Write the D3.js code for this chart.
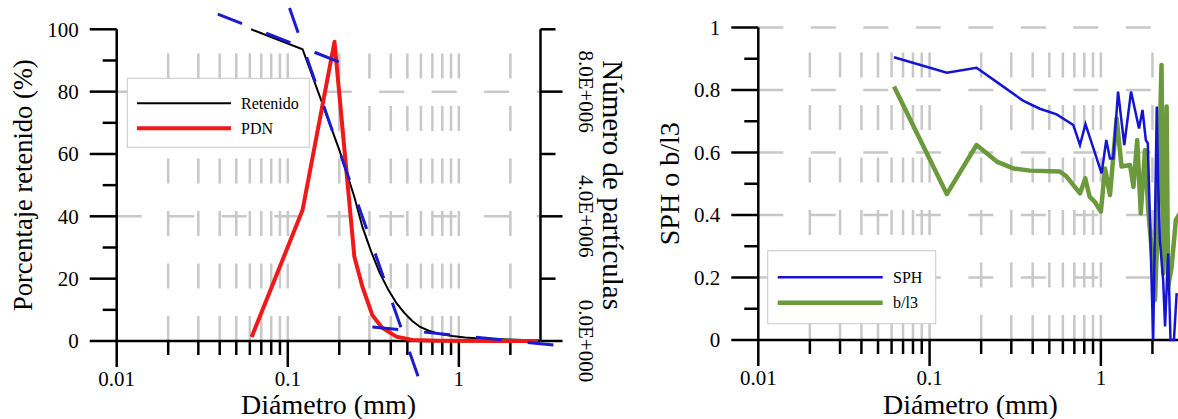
<!DOCTYPE html>
<html><head><meta charset="utf-8">
<script src="https://cdn.jsdelivr.net/npm/d3@7"></script>
<style>body{margin:0;background:#fff}svg{display:block}</style>
</head><body><svg id="c" width="1178" height="419" font-family="'Liberation Serif', 'Times New Roman', serif"></svg>
<script>
// ---------- data ----------
const xMajorTicks = [0.01, 0.1, 1];
const xMajorLabels = ["0.01", "0.1", "1"];
const xMinorTicks = [0.02,0.03,0.04,0.05,0.06,0.07,0.08,0.09,0.2,0.3,0.4,0.5,0.6,0.7,0.8,0.9,2];
const leftYTicks = [0,20,40,60,80,100];
const leftYMinor = [10,30,50,70,90];
const partTicks = [0,4e6,8e6];
const partLabels = ["0.0E+000","4.0E+006","8.0E+006"];
const partMinor = [2e6,6e6,1e7];
const rightYTicks = [0,0.2,0.4,0.6,0.8,1];
const rightYLabels = ["0","0.2","0.4","0.6","0.8","1"];
const rightYMinor = [0.1,0.3,0.5,0.7,0.9];

// Retenido (%)
const retD = [0.061,0.122,0.2,0.245,0.273,0.308,0.343,0.387,0.431,0.48,0.534,0.594,0.672,0.778,0.914,1.088,1.313,1.965,2.94];
const retV = [100,93.6,61.3,46.2,36.6,28.5,22.1,16.4,12.2,9.0,6.4,4.5,3.2,2.2,1.6,1.1,0.8,0.5,0.2];
// PDN (número de partículas)
const pdnD = [0.0615,0.122,0.1875,0.245,0.273,0.312,0.357,0.431,0.534,0.767,2.9];
const pdnV = [1.3e5,4.2e6,9.6e6,2.7e6,1.74e6,8.3e5,4.2e5,1.4e5,3e4,1e4,0];
// tangent (dashed) lines: [d0, v0, d1, v1] (%)
const tangA = [0.039,104.9,0.2,89.5];
const tangB = [0.1024,106.8,0.587,-12.5];
const tangC = [0.312,4.5,3.59,-1.3];

// SPH
const sphD = [0.062,0.126,0.188,0.258,0.351,0.44,0.552,0.69,0.755,0.813,1.01,1.075,1.13,1.18,1.26,1.37,1.5,1.67,1.75,1.83,1.88,2.02,2.12,2.16,2.21,2.31,2.37,2.47,2.55,2.67,2.77];
const sphV = [0.905,0.855,0.871,0.818,0.766,0.74,0.722,0.688,0.624,0.691,0.533,0.64,0.581,0.581,0.795,0.624,0.795,0.677,0.736,0.64,0.629,0.0,0.747,0.496,0.32,0.192,0.043,0.277,0.0,0.0,0.15];
// b/l3
const blD = [0.062,0.126,0.188,0.247,0.308,0.386,0.576,0.631,0.755,0.811,0.859,0.918,1.0,1.057,1.13,1.236,1.32,1.48,1.55,1.63,1.71,1.81,1.89,1.98,2.07,2.13,2.26,2.31,2.42,2.47,2.59,2.74,3.0];
const blV = [0.811,0.467,0.624,0.571,0.549,0.542,0.539,0.523,0.469,0.517,0.459,0.443,0.411,0.549,0.464,0.709,0.555,0.56,0.49,0.64,0.405,0.608,0.416,0.288,0.128,0.32,0.88,0.213,0.747,0.17,0.235,0.384,0.42];

// ---------- drawing ----------
const FONT = "'Liberation Serif', 'Times New Roman', serif";
const svg = d3.select("#c");
svg.append("rect").attr("width",1178).attr("height",419).attr("fill","#fff");
const GRID = "#c8c8c8";
const AX = 2.5;

function txt(g){ return g.append("text").attr("font-family",FONT).attr("fill","#000"); }

function panel(o){
  const g = svg.append("g");
  const x = d3.scaleLog().domain([0.01,3]).range([o.x0, o.x1]);
  const y = d3.scaleLinear().domain(o.yDomain).range([o.yb, o.yt]);
  const gx = xMinorTicks.concat([0.1,1]);
  g.selectAll(".vg").data(gx).join("line")
    .attr("x1",d=>x(d)).attr("x2",d=>x(d)).attr("y1",o.yb).attr("y2",o.yt)
    .attr("stroke",GRID).attr("stroke-width",2.5).attr("stroke-dasharray","25,27.5");
  g.selectAll(".hg").data(o.hGrid).join("line")
    .attr("x1",o.x0).attr("x2",o.x1).attr("y1",d=>o.hScale(d)).attr("y2",d=>o.hScale(d))
    .attr("stroke",GRID).attr("stroke-width",2.5).attr("stroke-dasharray","25,27.5");
  return {g,x,y};
}

function axes(p,o){
  const {g,x,y} = p;
  g.append("line").attr("x1",o.x0).attr("x2",o.x1).attr("y1",o.yb).attr("y2",o.yb).attr("stroke","#000").attr("stroke-width",AX);
  g.selectAll(".xM").data(xMajorTicks).join("line").attr("x1",d=>x(d)).attr("x2",d=>x(d)).attr("y1",o.yb).attr("y2",o.yb+26).attr("stroke","#000").attr("stroke-width",AX);
  g.selectAll(".xm").data(xMinorTicks).join("line").attr("x1",d=>x(d)).attr("x2",d=>x(d)).attr("y1",o.yb).attr("y2",o.yb+14).attr("stroke","#000").attr("stroke-width",AX);
  xMajorTicks.forEach((d,i)=>{
    txt(g).attr("x",x(d)).attr("y",o.yb+45).attr("text-anchor","middle").attr("font-size",21).text(xMajorLabels[i]);
  });
  g.append("line").attr("x1",o.x0).attr("x2",o.x0).attr("y1",o.yb).attr("y2",o.yt).attr("stroke","#000").attr("stroke-width",AX);
  g.selectAll(".yM").data(o.yTicks).join("line").attr("x1",o.x0-27).attr("x2",o.x0).attr("y1",d=>y(d)).attr("y2",d=>y(d)).attr("stroke","#000").attr("stroke-width",AX);
  g.selectAll(".ym").data(o.yMinor).join("line").attr("x1",o.x0-14).attr("x2",o.x0).attr("y1",d=>y(d)).attr("y2",d=>y(d)).attr("stroke","#000").attr("stroke-width",AX);
  o.yTicks.forEach((d,i)=>{
    txt(g).attr("x",o.x0-38).attr("y",y(d)).attr("dy","0.35em").attr("text-anchor","end").attr("font-size",21).text(o.yLabels[i]);
  });
  txt(g).attr("x",(o.x0+o.x1)/2).attr("y",414).attr("text-anchor","middle").attr("font-size",28).text("Diámetro (mm)");
  txt(g).attr("transform",`translate(${o.titleX},${(o.yb+o.yt)/2}) rotate(-90)`).attr("text-anchor","middle").attr("dy","0.35em").attr("font-size",o.titleSize).text(o.yTitle);
}

function legend(g,o){
  g.append("rect").attr("x",o.x).attr("y",o.y).attr("width",o.w).attr("height",o.h).attr("fill","#fff").attr("stroke","#c8c8c8").attr("stroke-width",1);
  o.items.forEach((it,i)=>{
    const yy = o.y + o.first + i*o.step;
    g.append("line").attr("x1",o.lx0).attr("x2",o.lx1).attr("y1",yy).attr("y2",yy).attr("stroke",it.c).attr("stroke-width",it.w);
    txt(g).attr("x",o.tx).attr("y",yy).attr("dy","0.35em").attr("font-size",16).text(it.t);
  });
}

// ---------- left panel ----------
const L = {x0:116.7,x1:540.5,yb:341,yt:29.3,yDomain:[0,100],yTicks:leftYTicks,yMinor:leftYMinor,yLabels:leftYTicks.map(String),titleX:23,titleSize:26.5,yTitle:"Porcentaje retenido (%)"};
const yPart = d3.scaleLinear().domain([0,1e7]).range([L.yb,L.yt]);
L.hGrid = [4e6,8e6]; L.hScale = yPart;
const pL = panel(L);
axes(pL,L);
pL.g.append("line").attr("x1",L.x1).attr("x2",L.x1).attr("y1",L.yb).attr("y2",L.yt).attr("stroke","#000").attr("stroke-width",AX);
pL.g.selectAll(".pM").data(partTicks).join("line").attr("x1",L.x1).attr("x2",L.x1+22).attr("y1",d=>yPart(d)).attr("y2",d=>yPart(d)).attr("stroke","#000").attr("stroke-width",AX);
pL.g.selectAll(".pm").data(partMinor).join("line").attr("x1",L.x1).attr("x2",L.x1+15).attr("y1",d=>yPart(d)).attr("y2",d=>yPart(d)).attr("stroke","#000").attr("stroke-width",AX);
partTicks.forEach((d,i)=>{
  txt(pL.g).attr("transform",`translate(586,${yPart(d)}) rotate(90)`).attr("text-anchor","middle").attr("dy","0.35em").attr("font-size",21).text(partLabels[i]);
});
txt(pL.g).attr("transform",`translate(613,${(L.yb+L.yt)/2}) rotate(90)`).attr("text-anchor","middle").attr("dy","0.35em").attr("font-size",29).text("Número de partículas");

const lineRet = d3.line().x(d=>pL.x(d[0])).y(d=>pL.y(d[1]));
pL.g.append("path").datum(retD.map((d,i)=>[d,retV[i]])).attr("d",lineRet).attr("fill","none").attr("stroke","#000").attr("stroke-width",2);
const linePdn = d3.line().x(d=>pL.x(d[0])).y(d=>yPart(d[1]));
pL.g.append("path").datum(pdnD.map((d,i)=>[d,pdnV[i]])).attr("d",linePdn).attr("fill","none").attr("stroke","#f01818").attr("stroke-width",4).attr("stroke-linejoin","round");
[tangA,tangB,tangC].forEach(t=>{
  pL.g.append("line").attr("x1",pL.x(t[0])).attr("y1",pL.y(t[1])).attr("x2",pL.x(t[2])).attr("y2",pL.y(t[3]))
    .attr("stroke","#1c1ccc").attr("stroke-width",3).attr("stroke-dasharray","26,26");
});
legend(pL.g,{x:127.3,y:78.3,w:182,h:69,first:25,step:25,lx0:137,lx1:231,tx:241,
  items:[{t:"Retenido",c:"#000",w:2},{t:"PDN",c:"#f01818",w:4}]});

// ---------- right panel ----------
const R = {x0:758.3,x1:1182.6,yb:340,yt:27.5,yDomain:[0,1],yTicks:rightYTicks,yMinor:rightYMinor,yLabels:rightYLabels,titleX:669,titleSize:28,yTitle:"SPH o b/l3"};
const yR = d3.scaleLinear().domain([0,1]).range([R.yb,R.yt]);
R.hGrid = [0.2,0.4,0.6,0.8,1]; R.hScale = yR;
const pR = panel(R);
axes(pR,R);
const lineR = d3.line().x(d=>pR.x(d[0])).y(d=>pR.y(d[1]));
pR.g.append("path").datum(blD.map((d,i)=>[d,blV[i]])).attr("d",lineR).attr("fill","none").attr("stroke","#6a9a3c").attr("stroke-width",4.5).attr("stroke-linejoin","round");
pR.g.append("path").datum(sphD.map((d,i)=>[d,sphV[i]])).attr("d",lineR).attr("fill","none").attr("stroke","#1414d2").attr("stroke-width",2.5);
legend(pR.g,{x:767.7,y:250.7,w:168,h:73,first:26.6,step:25.4,lx0:777.7,lx1:882.7,tx:893,
  items:[{t:"SPH",c:"#1414d2",w:2.5},{t:"b/l3",c:"#6a9a3c",w:4.5}]});
</script></body></html>
